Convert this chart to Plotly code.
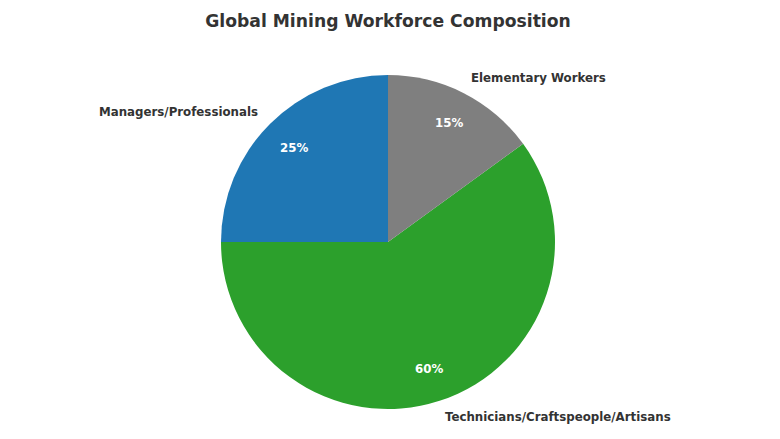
import math
import plotly.graph_objects as go

categories = ["Managers/Professionals", "Technicians/Craftspeople/Artisans", "Elementary Workers"]
shares = [25, 60, 15]
colors = ["#1f77b4", "#2ca02c", "#7f7f7f"]

# page body has an 8px margin, so the figure is slightly smaller than the window
W, H = 772, 431
L, R, T, B = 72, 84, 67, 30
pw, ph = W - L - R, H - T - B
cx, cy = L + pw / 2, T + ph / 2
rad = min(pw, ph) / 2

fig = go.Figure(go.Pie(
    labels=categories, values=shares, sort=False,
    direction="counterclockwise", rotation=-90,
    marker=dict(colors=colors, line=dict(width=0)),
    textinfo="none", hoverinfo="label+percent", showlegend=False,
))

annotations = []
total = sum(shares)
start = 90.0
for lab, v in zip(categories, shares):
    sweep = 360.0 * v / total
    mid = math.radians(start + sweep / 2)
    start += sweep
    lx = cx + 1.1 * rad * math.cos(mid)
    ly = cy - 1.1 * rad * math.sin(mid)
    right = math.cos(mid) >= 0
    annotations.append(dict(
        x=(lx - L) / pw, y=1 - (ly - T) / ph, xref="paper", yref="paper",
        text=lab, showarrow=False, borderpad=0, borderwidth=0,
        xanchor="left" if right else "right", yanchor="middle",
        font=dict(family="DejaVu Sans", size=11.8, color="#333333", weight="bold"),
    ))
    px = cx + 0.8 * rad * math.cos(mid)
    py = cy - 0.8 * rad * math.sin(mid)
    annotations.append(dict(
        x=(px - L) / pw, y=1 - (py - T) / ph, xref="paper", yref="paper",
        text=f"{v / total * 100:.0f}%", showarrow=False,
        xanchor="center", yanchor="middle",
        font=dict(family="DejaVu Sans", size=11.8, color="white", weight="bold"),
    ))

fig.update_layout(
    width=W, height=H,
    margin=dict(l=L, r=R, t=T, b=B),
    paper_bgcolor="white", plot_bgcolor="white",
    title=dict(text="<b>Global Mining Workforce Composition</b>", x=(380 / W), xanchor="center",
               y=1 - 13 / H, yanchor="middle",
               font=dict(family="DejaVu Sans", size=17.2, color="#333333")),
    annotations=annotations,
)

fig.write_html("out.html")
